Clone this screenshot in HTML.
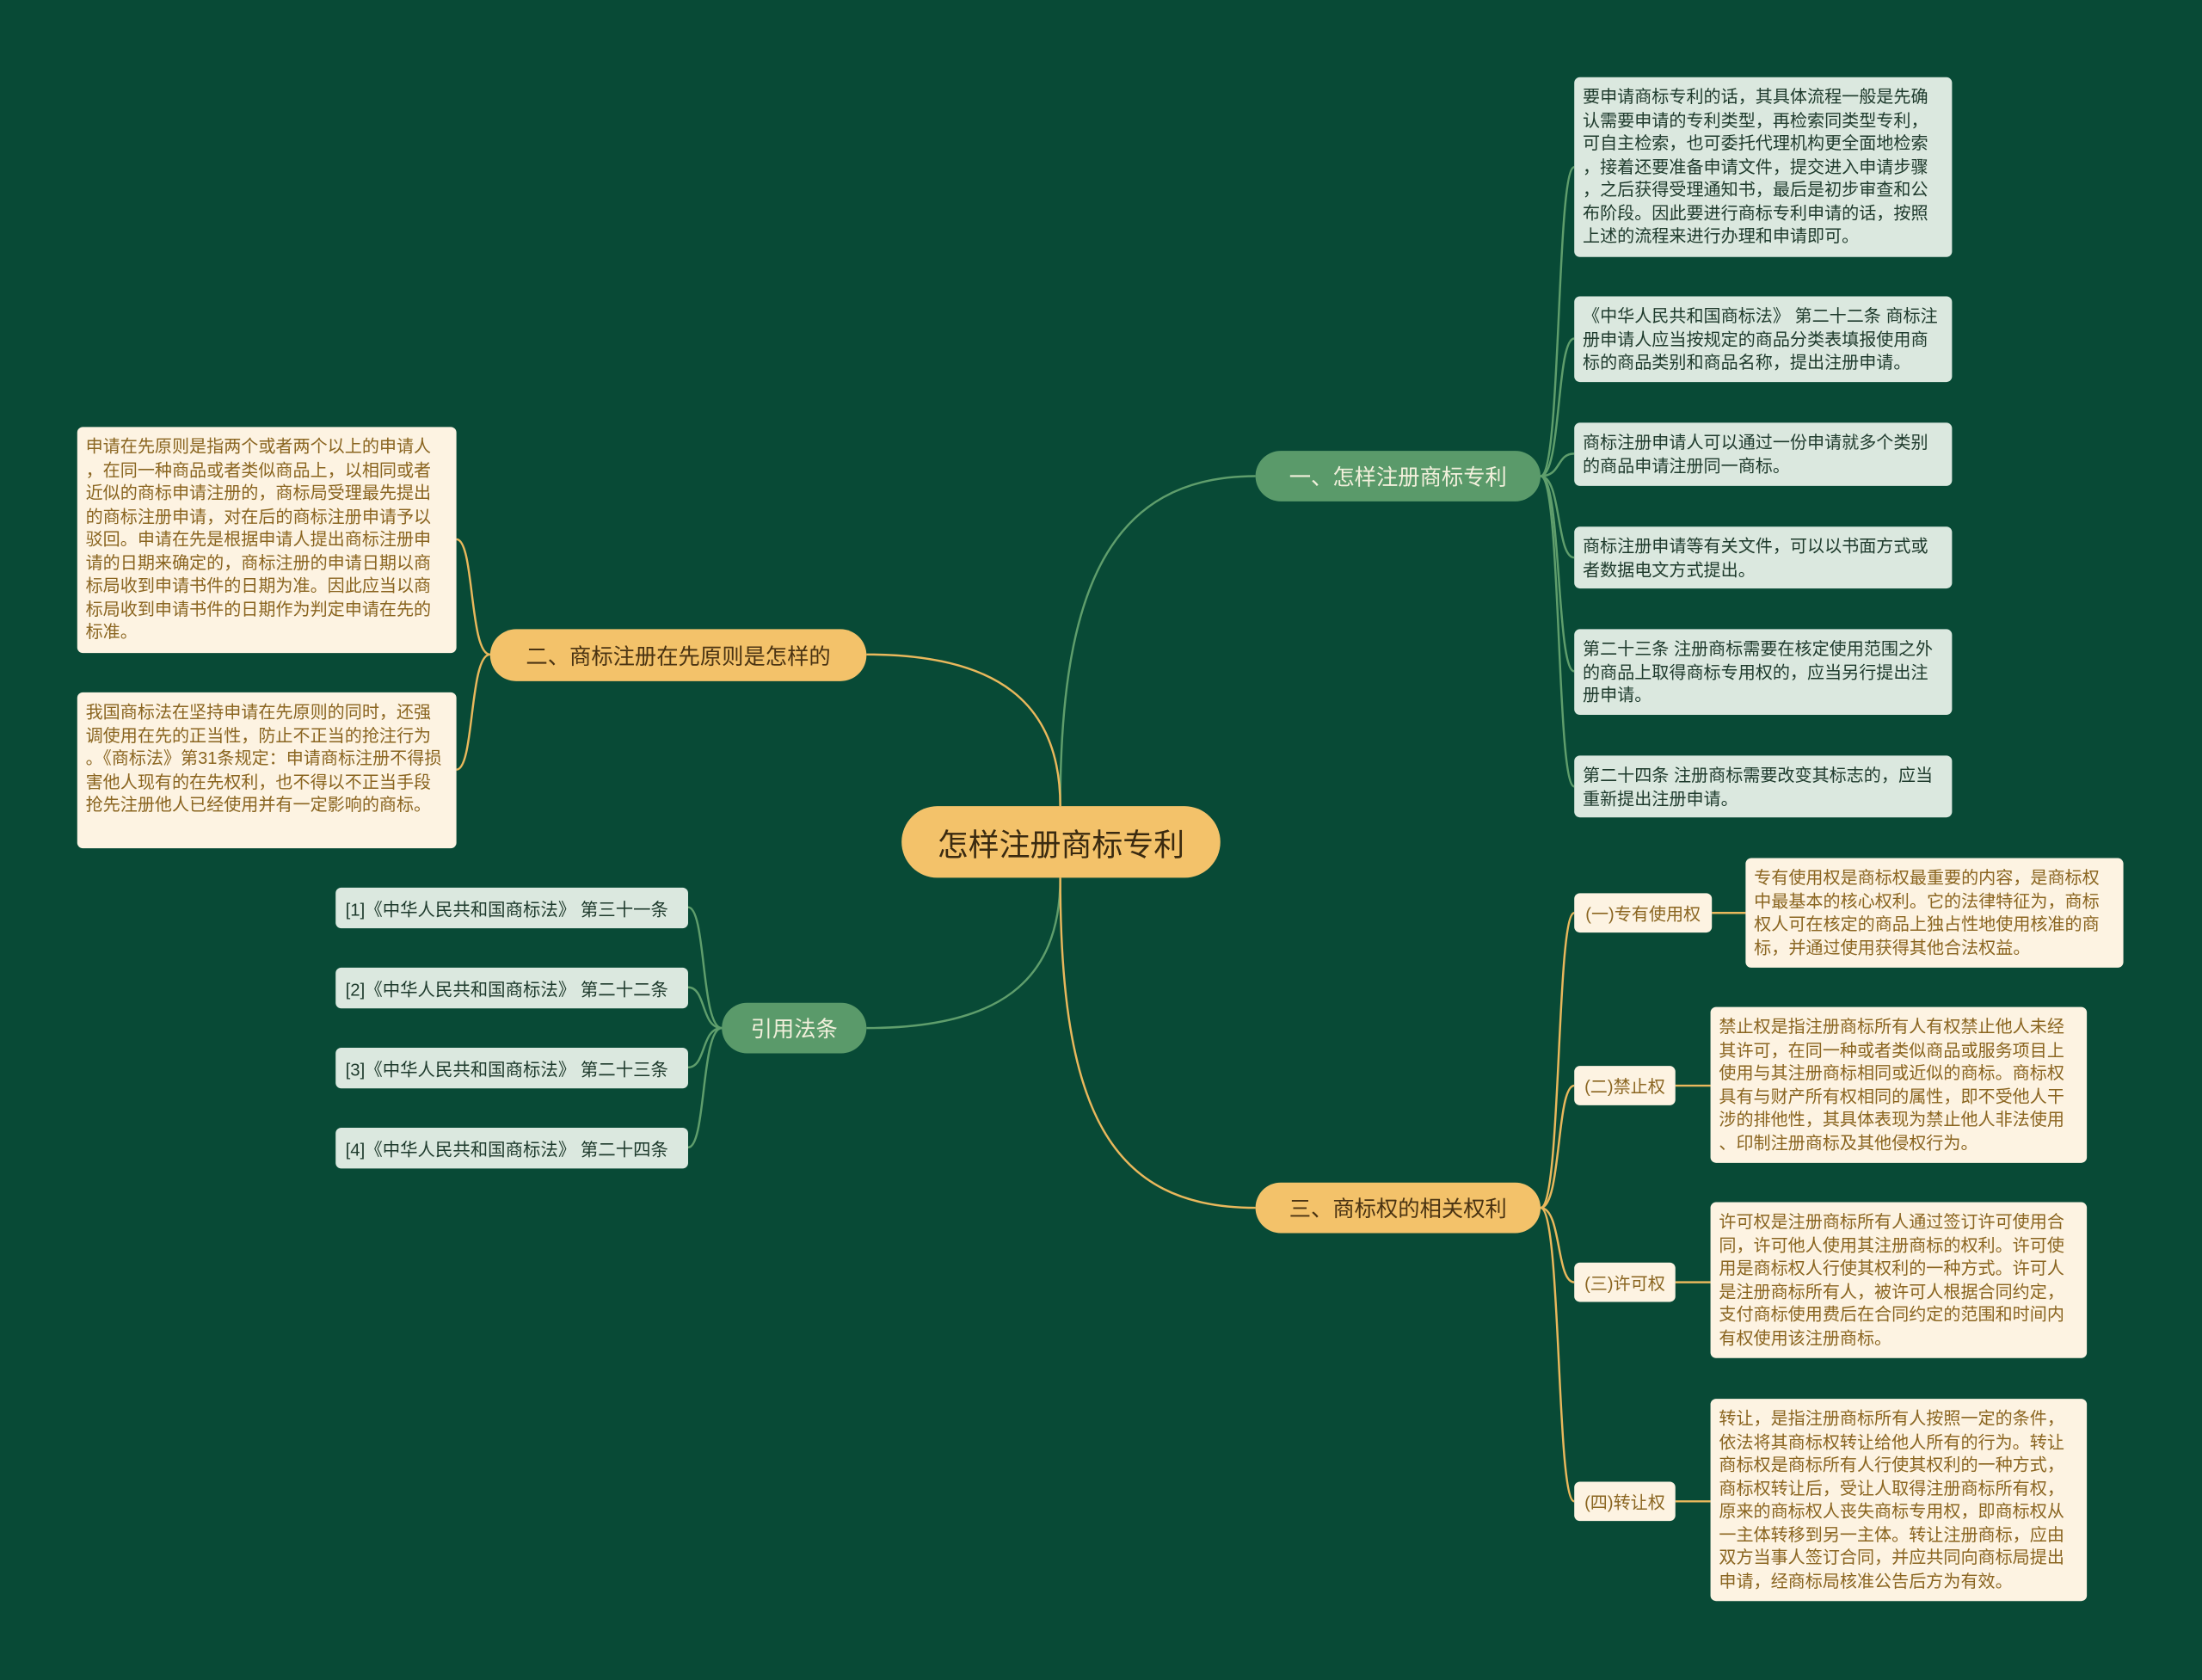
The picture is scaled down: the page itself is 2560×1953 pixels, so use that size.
<!DOCTYPE html>
<html><head><meta charset="utf-8">
<style>
html,body{margin:0;padding:0;background:#084a36;}
body{width:2560px;height:1953px;overflow:hidden;font-family:"Liberation Sans","Noto Sans CJK SC",sans-serif;}
#s{position:absolute;left:0;top:0;width:1568px;height:1196px;transform:scale(1.632653);transform-origin:0 0;}
.n{position:absolute;box-sizing:border-box;line-break:anywhere;}
.c{background:#f3c26a;color:#3a2a10;border-radius:26px;font-size:22px;display:flex;align-items:center;justify-content:center;}
.bo{background:#f3c26a;color:#4a3312;border-radius:19px;font-size:15.5px;display:flex;align-items:center;justify-content:center;}
.bg{background:#5a9a6a;color:#f2f0dc;border-radius:19px;font-size:15.5px;display:flex;align-items:center;justify-content:center;}
.lg{background:#dbe8df;color:#1e3a2c;border-radius:4px;font-size:12.3px;line-height:16.5px;padding:6px 6px;}
.lo{background:#fdf3e2;color:#8a6520;border-radius:4px;font-size:12.3px;line-height:16.5px;padding:6px 6px;}
.so{background:#fdf3e2;color:#8a6520;border-radius:4px;font-size:12.3px;display:flex;align-items:center;justify-content:center;}
.rg{background:#dbe8df;color:#1e3a2c;border-radius:4px;font-size:12.5px;display:flex;align-items:center;padding-left:7px;}
</style></head><body><div id="s">
<svg width="1568" height="1196" style="position:absolute;left:0;top:0" fill="none" stroke-width="1.5">
<g stroke="#5f9e6c">
<path d="M755,574 C755,420 790,339 894,339"/>
<path d="M755,625 C755,700 710,732 617,732"/>
<path d="M1097,339 C1112,339 1108,119 1121,119"/>
<path d="M1097,339 C1112,339 1108,241 1121,241"/>
<path d="M1097,339 C1112,339 1108,323 1121,323"/>
<path d="M1097,339 C1112,339 1108,397 1121,397"/>
<path d="M1097,339 C1112,339 1108,478 1121,478"/>
<path d="M1097,339 C1112,339 1108,560 1121,560"/>
<path d="M514,732 C499,732 503,646 490,646"/>
<path d="M514,732 C499,732 503,703 490,703"/>
<path d="M514,732 C499,732 503,760 490,760"/>
<path d="M514,732 C499,732 503,817 490,817"/>
</g>
<g stroke="#e9b85c">
<path d="M755,574 C755,500 710,466 617,466"/>
<path d="M755,625 C755,790 790,860 894,860"/>
<path d="M349,466 C334,466 338,384 325,384"/>
<path d="M349,466 C334,466 338,548 325,548"/>
<path d="M1097,860 C1112,860 1108,650 1121,650"/>
<path d="M1097,860 C1112,860 1108,773 1121,773"/>
<path d="M1097,860 C1112,860 1108,913 1121,913"/>
<path d="M1097,860 C1112,860 1108,1069 1121,1069"/>
<path d="M1219,650 L1243,650"/>
<path d="M1193,773 L1218,773"/>
<path d="M1193,913 L1218,913"/>
<path d="M1193,1069 L1218,1069"/>
</g>
</svg>

<div class="n c" style="left:642px;top:574px;width:227px;height:51px">怎样注册商标专利</div>
<div class="n bg" style="left:894px;top:321px;width:203px;height:36px">一、怎样注册商标专利</div>
<div class="n bo" style="left:349px;top:448px;width:268px;height:37px">二、商标注册在先原则是怎样的</div>
<div class="n bg" style="left:514px;top:714px;width:103px;height:36px">引用法条</div>
<div class="n bo" style="left:894px;top:842px;width:203px;height:36px">三、商标权的相关权利</div>

<div class="n lg" style="left:1121px;top:55px;width:269px;height:128px">要申请商标专利的话，其具体流程一般是先确认需要申请的专利类型，再检索同类型专利，可自主检索，也可委托代理机构更全面地检索，接着还要准备申请文件，提交进入申请步骤，之后获得受理通知书，最后是初步审查和公布阶段。因此要进行商标专利申请的话，按照上述的流程来进行办理和申请即可。</div>
<div class="n lg" style="left:1121px;top:211px;width:269px;height:61px">《中华人民共和国商标法》 第二十二条 商标注册申请人应当按规定的商品分类表填报使用商标的商品类别和商品名称，提出注册申请。</div>
<div class="n lg" style="left:1121px;top:301px;width:269px;height:45px">商标注册申请人可以通过一份申请就多个类别的商品申请注册同一商标。</div>
<div class="n lg" style="left:1121px;top:375px;width:269px;height:44px">商标注册申请等有关文件，可以以书面方式或者数据电文方式提出。</div>
<div class="n lg" style="left:1121px;top:448px;width:269px;height:61px">第二十三条 注册商标需要在核定使用范围之外的商品上取得商标专用权的，应当另行提出注册申请。</div>
<div class="n lg" style="left:1121px;top:538px;width:269px;height:44px">第二十四条 注册商标需要改变其标志的，应当重新提出注册申请。</div>

<div class="n lo" style="left:55px;top:304px;width:270px;height:161px">申请在先原则是指两个或者两个以上的申请人，在同一种商品或者类似商品上，以相同或者近似的商标申请注册的，商标局受理最先提出的商标注册申请，对在后的商标注册申请予以驳回。申请在先是根据申请人提出商标注册申请的日期来确定的，商标注册的申请日期以商标局收到申请书件的日期为准。因此应当以商标局收到申请书件的日期作为判定申请在先的标准。</div>
<div class="n lo" style="left:55px;top:493px;width:270px;height:111px">我国商标法在坚持申请在先原则的同时，还强调使用在先的正当性，防止不正当的抢注行为。《商标法》第31条规定：申请商标注册不得损害他人现有的在先权利，也不得以不正当手段抢先注册他人已经使用并有一定影响的商标。</div>

<div class="n rg" style="left:239px;top:632px;width:251px;height:29px">[1]《中华人民共和国商标法》 第三十一条</div>
<div class="n rg" style="left:239px;top:689px;width:251px;height:29px">[2]《中华人民共和国商标法》 第二十二条</div>
<div class="n rg" style="left:239px;top:746px;width:251px;height:29px">[3]《中华人民共和国商标法》 第二十三条</div>
<div class="n rg" style="left:239px;top:803px;width:251px;height:29px">[4]《中华人民共和国商标法》 第二十四条</div>

<div class="n so" style="left:1121px;top:636px;width:98px;height:28px">(一)专有使用权</div>
<div class="n so" style="left:1121px;top:759px;width:72px;height:28px">(二)禁止权</div>
<div class="n so" style="left:1121px;top:899px;width:72px;height:28px">(三)许可权</div>
<div class="n so" style="left:1121px;top:1055px;width:72px;height:28px">(四)转让权</div>

<div class="n lo" style="left:1243px;top:611px;width:269px;height:78px">专有使用权是商标权最重要的内容，是商标权中最基本的核心权利。它的法律特征为，商标权人可在核定的商品上独占性地使用核准的商标，并通过使用获得其他合法权益。</div>
<div class="n lo" style="left:1218px;top:717px;width:268px;height:111px">禁止权是指注册商标所有人有权禁止他人未经其许可，在同一种或者类似商品或服务项目上使用与其注册商标相同或近似的商标。商标权具有与财产所有权相同的属性，即不受他人干涉的排他性，其具体表现为禁止他人非法使用、印制注册商标及其他侵权行为。</div>
<div class="n lo" style="left:1218px;top:856px;width:268px;height:111px">许可权是注册商标所有人通过签订许可使用合同，许可他人使用其注册商标的权利。许可使用是商标权人行使其权利的一种方式。许可人是注册商标所有人，被许可人根据合同约定，支付商标使用费后在合同约定的范围和时间内有权使用该注册商标。</div>
<div class="n lo" style="left:1218px;top:996px;width:268px;height:144px">转让，是指注册商标所有人按照一定的条件，依法将其商标权转让给他人所有的行为。转让商标权是商标所有人行使其权利的一种方式，商标权转让后，受让人取得注册商标所有权，原来的商标权人丧失商标专用权，即商标权从一主体转移到另一主体。转让注册商标，应由双方当事人签订合同，并应共同向商标局提出申请，经商标局核准公告后方为有效。</div>
</div></body></html>
